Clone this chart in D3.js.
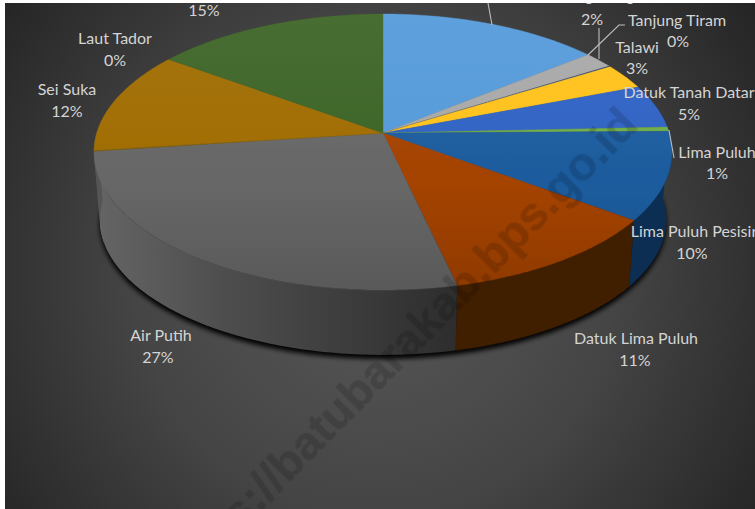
<!DOCTYPE html>
<html><head><meta charset="utf-8">
<script src="https://cdn.jsdelivr.net/npm/d3@7/dist/d3.min.js"></script>
<style>html,body{margin:0;padding:0;background:#fff;overflow:hidden}svg{display:block}</style>
</head><body>
<svg id="c" width="755" height="509"></svg>
<script>
// ---- data ----
const categories = ["Sei Balai","Nibung Hangus","Tanjung Tiram","Talawi","Datuk Tanah Datar","Lima Puluh","Lima Puluh Pesisir","Datuk Lima Puluh","Air Putih","Laut Tador","Sei Suka","Medang Deras"];
const values = [14.2,1.9,0.1,3.0,5.1,0.5,10.3,11.3,26.5,0.1,12.0,15.0];
const colors = ["#549ada","#a8a8a8","#264478","#ffc21a","#2f62c4","#70ad47","#1c5c9e","#a54300","#676767","#7a5a10","#a06c00","#3c6426"];
const wallColors = ["#2a4f70","#555","#123","#7a5c00","#18336a","#3a5a22","#0c2e52","#401e00","#555","#555","#555","#555"];

// ---- layout (not data) ----
const W=755,H=509;
const labelPos = [null,[596,0.5,592,25],[677,26,678,47],[637,53,637,74],[689,98,689,120],[717,158,717,179],[694,237,692,259],[636,344,635,366],[161,341,158,363],[115,44,115,66],[67,95,67,117],[null,null,204,16]];
const ax=383, ay=133, A=286.2, B=135.4, k=0.1378;
const ax2=383, ay2=201, s2=0.98;
const topP = t => {const d=1+k*Math.cos(t);return [ax+A*Math.sin(t)/d, ay-B*Math.cos(t)/d];};
const botP = t => {const d=1+k*Math.cos(t);return [ax2+s2*A*Math.sin(t)/d, ay2-s2*B*Math.cos(t)/d];};

const svg=d3.select("#c"), defs=svg.append("defs");
const rg=defs.append("radialGradient").attr("id","bg").attr("gradientUnits","userSpaceOnUse")
  .attr("cx",375).attr("cy",270).attr("r",480);
rg.append("stop").attr("offset",0).attr("stop-color","#585858");
rg.append("stop").attr("offset",0.5).attr("stop-color","#454545");
rg.append("stop").attr("offset",1).attr("stop-color","#222");
const lin=(id,x1,y1,x2,y2,st)=>{const g=defs.append("linearGradient").attr("id",id).attr("gradientUnits","userSpaceOnUse")
  .attr("x1",x1).attr("y1",y1).attr("x2",x2).attr("y2",y2);
  st.forEach(s=>g.append("stop").attr("offset",s[0]).attr("stop-color",s[1]).attr("stop-opacity",s[2]===undefined?1:s[2]));};
lin("grayWall",95,0,458,0,[[0,"#656565"],[0.35,"#4e4e4e"],[1,"#2d2d2d"]]);
lin("sheen",0,14,0,295,[[0,"#fff",0.06],[0.45,"#fff",0.02],[0.6,"#000",0],[1,"#000",0.14]]);
defs.append("filter").attr("id","blur").attr("x","-10%").attr("y","-10%").attr("width","120%").attr("height","120%")
  .append("feGaussianBlur").attr("stdDeviation",2.5);
defs.append("filter").attr("id","soft").attr("x","-5%").attr("y","-20%").attr("width","110%").attr("height","140%")
  .append("feGaussianBlur").attr("stdDeviation",0.6);

svg.append("rect").attr("width",W).attr("height",H).attr("fill","url(#bg)");

const pie=d3.pie().sort(null).value(d=>d)(values);
const line=d3.line();
const arcPts=(f,a,b)=>{const n=Math.max(2,Math.ceil((b-a)/0.015));return d3.range(n+1).map(i=>f(a+(b-a)*i/n));};

// shadow under the drum
svg.append("path").attr("d",line(arcPts(botP,Math.PI*0.45,Math.PI*1.55).map(p=>[p[0],p[1]+4]))+"Z")
  .attr("fill","#060606").attr("filter","url(#blur)");

// back-left piece of silhouette
svg.append("path").attr("d",line(arcPts(topP,Math.PI*1.4,Math.PI*1.6).concat(arcPts(botP,Math.PI*1.4,Math.PI*1.6).reverse()))+"Z").attr("fill","#626262");

// side walls
const lo=Math.PI*0.48, hi=Math.PI*1.5;
pie.forEach((d,i)=>{
  const a=Math.max(d.startAngle,lo), b=Math.min(d.endAngle,hi);
  if(b<=a) return;
  const pts=arcPts(topP,a,b).concat(arcPts(botP,a,b).reverse());
  svg.append("path").attr("d",line(pts)+"Z")
    .attr("fill",categories[i]==="Air Putih"?"url(#grayWall)":wallColors[i])
    .attr("stroke",categories[i]==="Air Putih"?"none":wallColors[i]).attr("stroke-width",0.4);
});

// top faces
pie.forEach((d,i)=>{
  const pts=[[ax,ay]].concat(arcPts(topP,d.startAngle,d.endAngle));
  svg.append("path").attr("d",line(pts)+"Z").attr("fill",colors[i]).attr("stroke",colors[i]).attr("stroke-width",0.4);
});
svg.append("path").attr("d",line(arcPts(topP,0,2*Math.PI))+"Z").attr("fill","url(#sheen)");

// leader lines
const leaders=[[[492,25],[488,3]],[[588,55],[619,25],[625,25]],[[599,59],[599,28]],[[669,130],[674,158]]];
leaders.forEach(l=>svg.append("path").attr("d",line(l)).attr("fill","none").attr("stroke","#bdbdbd").attr("stroke-width",1.1));

// labels
const lab=svg.append("g").attr("font-family","Lato, 'Open Sans', sans-serif").attr("font-size",16).attr("fill","#d4d4d4").attr("text-anchor","middle");
categories.forEach((c,i)=>{
  const p=labelPos[i]; if(!p) return;
  if(p[0]!==null) lab.append("text").attr("x",p[0]).attr("y",p[1]).text(c);
  lab.append("text").attr("x",p[2]).attr("y",p[3]).text(Math.round(values[i])+"%");
});

// watermark
svg.append("text").attr("transform","translate(640,127) rotate(-45.4)").attr("text-anchor","end")
  .attr("font-family","'Liberation Sans',Arial,sans-serif").attr("font-weight","bold").attr("font-size",47)
  .attr("fill","#000").attr("stroke","#000").attr("stroke-width",0.5).attr("opacity",0.14).attr("filter","url(#soft)").text("https://batubarakab.bps.go.id");

// page margin strips
svg.append("rect").attr("width",W).attr("height",3).attr("fill","#fff");
svg.append("rect").attr("width",5).attr("height",H).attr("fill","#fff");
</script>
</body></html>
